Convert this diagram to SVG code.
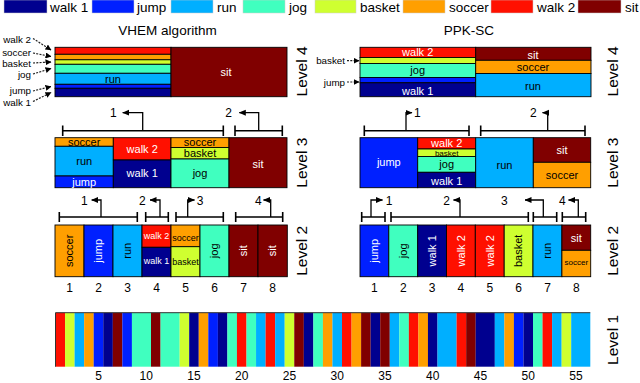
<svg xmlns="http://www.w3.org/2000/svg" width="640" height="383" viewBox="0 0 640 383">
<defs>
<style>
text{font-family:"Liberation Sans",Arial,sans-serif;fill:#000}
.lg{font-size:13.5px}
.ttl{font-size:13.5px;text-anchor:middle}
.lvl{font-size:15.5px;text-anchor:middle}
.num{font-size:12px;text-anchor:middle}
.lb{font-size:11px;text-anchor:middle}
.sm{font-size:9px;text-anchor:middle}
.xs{font-size:8px;text-anchor:middle}
.side{font-size:9.8px;text-anchor:end}
.wt{fill:#fff}
.w1{fill:#00008F}.jp{fill:#0020FF}.rn{fill:#00AFFF}.jg{fill:#40FFBF}
.bk{fill:#CFFF30}.sc{fill:#FF9F00}.w2{fill:#FF1000}.st{fill:#800000}
.cell rect{stroke:#000;stroke-width:0.9}
.sw{stroke:#ccc;stroke-width:0.5}
.br{fill:none;stroke:#000;stroke-width:1.6}
.turn{fill:none;stroke:#000;stroke-width:1.3;marker-end:url(#ah)}
.dot{fill:none;stroke:#222;stroke-width:1.2;stroke-dasharray:2 1.3;marker-end:url(#ah2)}
</style>
<marker id="ah" markerUnits="userSpaceOnUse" markerWidth="7" markerHeight="7" refX="6.5" refY="3.5" orient="auto">
<path d="M0,0.5 L7,3.5 L0,6.5 z" fill="#000" stroke="none"/>
</marker>
<marker id="ah2" markerUnits="userSpaceOnUse" markerWidth="6" markerHeight="6" refX="5.5" refY="3" orient="auto">
<path d="M0,0 L6,3 L0,6 z" fill="#000" stroke="none"/>
</marker>
</defs>
<rect width="640" height="383" fill="#fff"/>

<g id="legend">
<rect class="w1 sw" x="4" y="0" width="43" height="13"/><text class="lg" x="50" y="11.5">walk 1</text>
<rect class="jp sw" x="92" y="0" width="42" height="13"/><text class="lg" x="137" y="11.5">jump</text>
<rect class="rn sw" x="171" y="0" width="42" height="13"/><text class="lg" x="217" y="11.5">run</text>
<rect class="jg sw" x="243" y="0" width="42" height="13"/><text class="lg" x="289" y="11.5">jog</text>
<rect class="bk sw" x="315" y="0" width="41" height="13"/><text class="lg" x="360" y="11.5">basket</text>
<rect class="sc sw" x="403" y="0" width="42" height="13"/><text class="lg" x="449" y="11.5">soccer</text>
<rect class="w2 sw" x="491" y="0" width="42" height="13"/><text class="lg" x="537" y="11.5">walk 2</text>
<rect class="st sw" x="578" y="0" width="43" height="13"/><text class="lg" x="625" y="11.5">sit</text>
</g>

<text class="ttl" x="167.5" y="35">VHEM algorithm</text>
<text class="ttl" x="469" y="35">PPK-SC</text>

<g id="level-labels">
<text class="lvl" transform="translate(307,71.5) rotate(-90)">Level 4</text>
<text class="lvl" transform="translate(618,71.5) rotate(-90)">Level 4</text>
<text class="lvl" transform="translate(307,162.7) rotate(-90)">Level 3</text>
<text class="lvl" transform="translate(618,162.7) rotate(-90)">Level 3</text>
<text class="lvl" transform="translate(307,250.8) rotate(-90)">Level 2</text>
<text class="lvl" transform="translate(618,250.8) rotate(-90)">Level 2</text>
<text class="lvl" transform="translate(618,340) rotate(-90)">Level 1</text>
</g>

<!-- VHEM level 4 -->
<g id="vhem-l4" class="cell">
<rect class="w2" x="55" y="47.3" width="116" height="7"/>
<rect class="sc" x="55" y="54.3" width="116" height="5.5"/>
<rect class="bk" x="55" y="59.8" width="116" height="4.5"/>
<rect class="jg" x="55" y="64.3" width="116" height="9"/>
<rect class="rn" x="55" y="73.3" width="116" height="11"/>
<rect class="jp" x="55" y="84.3" width="116" height="4"/>
<rect class="w1" x="55" y="88.3" width="116" height="8.4"/>
<rect class="st" x="171" y="47.3" width="116" height="49.4"/>
<text class="lb" x="113" y="82.5">run</text>
<text class="lb wt" x="226" y="75.8">sit</text>
</g>
<g id="vhem-l4-side">
<text class="side" x="31" y="43">walk 2</text>
<text class="side" x="31" y="56">soccer</text>
<text class="side" x="31" y="66.8">basket</text>
<text class="side" x="31" y="77.5">jog</text>
<text class="side" x="31" y="94">jump</text>
<text class="side" x="31" y="105.5">walk 1</text>
</g>

<!-- PPK level 4 -->
<g id="ppk-l4" class="cell">
<rect class="w2" x="360" y="47.3" width="115.7" height="10.2"/>
<rect class="bk" x="360" y="57.5" width="115.7" height="6"/>
<rect class="jg" x="360" y="63.5" width="115.7" height="14"/>
<rect class="jp" x="360" y="77.5" width="115.7" height="5.3"/>
<rect class="w1" x="360" y="82.8" width="115.7" height="13.9"/>
<rect class="st" x="475.7" y="47.3" width="115.3" height="13"/>
<rect class="sc" x="475.7" y="60.3" width="115.3" height="13.2"/>
<rect class="rn" x="475.7" y="73.5" width="115.3" height="23.2"/>
<text class="lb wt" x="417.7" y="55.8">walk 2</text>
<text class="lb" x="417.7" y="73.8">jog</text>
<text class="lb wt" x="417.7" y="94.5">walk 1</text>
<text class="lb wt" x="533" y="58.5">sit</text>
<text class="lb" x="533" y="70.8">soccer</text>
<text class="lb" x="533" y="89.5">run</text>
</g>
<g id="ppk-l4-side">
<text class="side" x="345" y="64.3">basket</text>
<text class="side" x="345" y="85.5">jump</text>
</g>

<!-- VHEM level 3 -->
<g id="vhem-l3" class="cell">
<rect class="sc" x="55" y="137.7" width="58.3" height="8.6"/>
<rect class="rn" x="55" y="146.3" width="58.3" height="29.7"/>
<rect class="jp" x="55" y="176" width="58.3" height="11.7"/>
<rect class="w2" x="113.3" y="137.7" width="57.7" height="22.3"/>
<rect class="w1" x="113.3" y="160" width="57.7" height="27.7"/>
<rect class="sc" x="171" y="137.7" width="58" height="9.8"/>
<rect class="bk" x="171" y="147.5" width="58" height="11.5"/>
<rect class="jg" x="171" y="159" width="58" height="28.7"/>
<rect class="st" x="229" y="137.7" width="58" height="50"/>
<text class="lb" x="84.2" y="146">soccer</text>
<text class="lb" x="84.2" y="165">run</text>
<text class="lb wt" x="84.2" y="186">jump</text>
<text class="lb wt" x="142.2" y="152.8">walk 2</text>
<text class="lb wt" x="142.2" y="177">walk 1</text>
<text class="lb" x="200" y="146">soccer</text>
<text class="lb" x="200" y="157">basket</text>
<text class="lb" x="200" y="177">jog</text>
<text class="lb wt" x="258" y="167.8">sit</text>
</g>

<!-- PPK level 3 -->
<g id="ppk-l3" class="cell">
<rect class="jp" x="360" y="137.7" width="57.7" height="50"/>
<rect class="w2" x="417.7" y="137.7" width="58" height="11.3"/>
<rect class="bk" x="417.7" y="149" width="58" height="7.5"/>
<rect class="jg" x="417.7" y="156.5" width="58" height="15.8"/>
<rect class="w1" x="417.7" y="172.3" width="58" height="15.4"/>
<rect class="rn" x="475.7" y="137.7" width="57.6" height="50"/>
<rect class="st" x="533.3" y="137.7" width="57.4" height="24.6"/>
<rect class="sc" x="533.3" y="162.3" width="57.4" height="25.4"/>
<text class="lb wt" x="388.8" y="165.5">jump</text>
<text class="lb wt" x="446.7" y="147.1">walk 2</text>
<text class="xs" x="446.7" y="156">basket</text>
<text class="lb" x="446.7" y="168">jog</text>
<text class="lb wt" x="446.7" y="184.5">walk 1</text>
<text class="lb" x="504.5" y="168.8">run</text>
<text class="lb wt" x="562" y="153.8">sit</text>
<text class="lb" x="562" y="178.8">soccer</text>
</g>

<!-- VHEM level 2 -->
<g id="vhem-l2" class="cell">
<rect class="sc" x="55" y="225" width="29" height="51.7"/>
<rect class="jp" x="84" y="225" width="29" height="51.7"/>
<rect class="rn" x="113" y="225" width="29" height="51.7"/>
<rect class="w2" x="142" y="225" width="29" height="22.3"/>
<rect class="w1" x="142" y="247.3" width="29" height="29.4"/>
<rect class="sc" x="171" y="225" width="29" height="21.7"/>
<rect class="bk" x="171" y="246.7" width="29" height="30"/>
<rect class="jg" x="200" y="225" width="29" height="51.7"/>
<rect class="st" x="229" y="225" width="29" height="51.7"/>
<rect class="st" x="258" y="225" width="29.3" height="51.7"/>
<text class="lb" transform="translate(69.5,250.8) rotate(-90)" dy="3.8">soccer</text>
<text class="lb wt" transform="translate(98.5,250.8) rotate(-90)" dy="3.8">jump</text>
<text class="lb" transform="translate(127.5,250.8) rotate(-90)" dy="3.8">run</text>
<text class="sm wt" x="156.5" y="239.2">walk 2</text>
<text class="sm wt" x="156.5" y="264.2">walk 1</text>
<text class="sm" x="185.5" y="241.3">soccer</text>
<text class="sm" x="185.5" y="264.7">basket</text>
<text class="lb" transform="translate(214.5,250.8) rotate(-90)" dy="3.8">jog</text>
<text class="lb wt" transform="translate(243.5,250.8) rotate(-90)" dy="3.8">sit</text>
<text class="lb wt" transform="translate(272.5,250.8) rotate(-90)" dy="3.8">sit</text>
</g>
<g id="vhem-l2-nums">
<text class="num" x="69.5" y="291.5">1</text><text class="num" x="98.5" y="291.5">2</text>
<text class="num" x="127.5" y="291.5">3</text><text class="num" x="156.5" y="291.5">4</text>
<text class="num" x="185.5" y="291.5">5</text><text class="num" x="214.5" y="291.5">6</text>
<text class="num" x="243.5" y="291.5">7</text><text class="num" x="272.5" y="291.5">8</text>
</g>

<!-- PPK level 2 -->
<g id="ppk-l2" class="cell">
<rect class="jp" x="360" y="225" width="28.8" height="51.7"/>
<rect class="jg" x="388.8" y="225" width="28.9" height="51.7"/>
<rect class="w1" x="417.7" y="225" width="28.8" height="51.7"/>
<rect class="w2" x="446.5" y="225" width="28.8" height="51.7"/>
<rect class="w2" x="475.3" y="225" width="28.9" height="51.7"/>
<rect class="bk" x="504.2" y="225" width="28.8" height="51.7"/>
<rect class="rn" x="533" y="225" width="28.9" height="51.7"/>
<rect class="st" x="561.9" y="225" width="28.8" height="25.3"/>
<rect class="sc" x="561.9" y="250.3" width="28.8" height="26.4"/>
<text class="lb wt" transform="translate(374.4,250.8) rotate(-90)" dy="3.8">jump</text>
<text class="lb" transform="translate(403.3,250.8) rotate(-90)" dy="3.8">jog</text>
<text class="lb wt" transform="translate(432.1,250.8) rotate(-90)" dy="3.8">walk 1</text>
<text class="lb wt" transform="translate(460.9,250.8) rotate(-90)" dy="3.8">walk 2</text>
<text class="lb wt" transform="translate(489.8,250.8) rotate(-90)" dy="3.8">walk 2</text>
<text class="lb" transform="translate(518.6,250.8) rotate(-90)" dy="3.8">basket</text>
<text class="lb" transform="translate(547.5,250.8) rotate(-90)" dy="3.8">run</text>
<text class="lb wt" x="576.3" y="241.5">sit</text>
<text class="xs" x="576.3" y="264.5">soccer</text>
</g>
<g id="ppk-l2-nums">
<text class="num" x="374.4" y="291.5">1</text><text class="num" x="403.3" y="291.5">2</text>
<text class="num" x="432.1" y="291.5">3</text><text class="num" x="460.9" y="291.5">4</text>
<text class="num" x="489.8" y="291.5">5</text><text class="num" x="518.6" y="291.5">6</text>
<text class="num" x="547.5" y="291.5">7</text><text class="num" x="576.3" y="291.5">8</text>
</g>

<!-- Level 1 -->
<g id="level1">
<rect class="w2" x="55.5" y="312.7" width="9.6" height="54"/>
<rect class="bk" x="65.05" y="312.7" width="9.6" height="54"/>
<rect class="rn" x="74.6" y="312.7" width="9.6" height="54"/>
<rect class="sc" x="84.15" y="312.7" width="9.6" height="54"/>
<rect class="jp" x="93.7" y="312.7" width="9.6" height="54"/>
<rect class="w1" x="103.25" y="312.7" width="9.6" height="54"/>
<rect class="st" x="112.8" y="312.7" width="9.6" height="54"/>
<rect class="jp" x="122.35" y="312.7" width="9.6" height="54"/>
<rect class="jg" x="131.9" y="312.7" width="19.15" height="54"/>
<rect class="st" x="151" y="312.7" width="9.6" height="54"/>
<rect class="jg" x="160.55" y="312.7" width="19.15" height="54"/>
<rect class="bk" x="179.65" y="312.7" width="9.6" height="54"/>
<rect class="w1" x="189.2" y="312.7" width="9.6" height="54"/>
<rect class="sc" x="198.75" y="312.7" width="9.6" height="54"/>
<rect class="jp" x="208.3" y="312.7" width="9.6" height="54"/>
<rect class="w1" x="217.85" y="312.7" width="9.6" height="54"/>
<rect class="jg" x="227.4" y="312.7" width="9.6" height="54"/>
<rect class="w2" x="236.95" y="312.7" width="9.6" height="54"/>
<rect class="jg" x="246.5" y="312.7" width="9.6" height="54"/>
<rect class="rn" x="256.05" y="312.7" width="9.6" height="54"/>
<rect class="w2" x="265.6" y="312.7" width="9.6" height="54"/>
<rect class="rn" x="275.15" y="312.7" width="9.6" height="54"/>
<rect class="bk" x="284.7" y="312.7" width="9.6" height="54"/>
<rect class="st" x="294.25" y="312.7" width="9.6" height="54"/>
<rect class="w1" x="303.8" y="312.7" width="9.6" height="54"/>
<rect class="jg" x="313.35" y="312.7" width="9.6" height="54"/>
<rect class="sc" x="322.9" y="312.7" width="9.6" height="54"/>
<rect class="rn" x="332.45" y="312.7" width="9.6" height="54"/>
<rect class="w2" x="342" y="312.7" width="9.6" height="54"/>
<rect class="sc" x="351.55" y="312.7" width="9.6" height="54"/>
<rect class="st" x="361.1" y="312.7" width="9.6" height="54"/>
<rect class="w1" x="370.65" y="312.7" width="9.6" height="54"/>
<rect class="st" x="380.2" y="312.7" width="9.6" height="54"/>
<rect class="rn" x="389.75" y="312.7" width="9.6" height="54"/>
<rect class="jg" x="399.3" y="312.7" width="9.6" height="54"/>
<rect class="w2" x="408.85" y="312.7" width="9.6" height="54"/>
<rect class="sc" x="418.4" y="312.7" width="9.6" height="54"/>
<rect class="w1" x="427.95" y="312.7" width="9.6" height="54"/>
<rect class="rn" x="437.5" y="312.7" width="19.15" height="54"/>
<rect class="w2" x="456.6" y="312.7" width="9.6" height="54"/>
<rect class="st" x="466.15" y="312.7" width="9.6" height="54"/>
<rect class="w1" x="475.7" y="312.7" width="19.15" height="54"/>
<rect class="rn" x="494.8" y="312.7" width="9.6" height="54"/>
<rect class="sc" x="504.35" y="312.7" width="9.6" height="54"/>
<rect class="jp" x="513.9" y="312.7" width="9.6" height="54"/>
<rect class="w1" x="523.45" y="312.7" width="9.6" height="54"/>
<rect class="jg" x="533" y="312.7" width="9.6" height="54"/>
<rect class="w2" x="542.55" y="312.7" width="9.6" height="54"/>
<rect class="rn" x="552.1" y="312.7" width="9.6" height="54"/>
<rect class="bk" x="561.65" y="312.7" width="9.6" height="54"/>
<rect class="rn" x="571.2" y="312.7" width="19.1" height="54"/>
<path d="M55.5,366.7 V312.7 H590.3" fill="none" stroke="#333" stroke-width="1"/>
</g>
<g id="level1-ticks">
<text class="num" x="98.5" y="380">5</text><text class="num" x="146.3" y="380">10</text>
<text class="num" x="194" y="380">15</text><text class="num" x="241.7" y="380">20</text>
<text class="num" x="289.5" y="380">25</text><text class="num" x="337.2" y="380">30</text>
<text class="num" x="385" y="380">35</text><text class="num" x="432.7" y="380">40</text>
<text class="num" x="480.5" y="380">45</text><text class="num" x="528.2" y="380">50</text>
<text class="num" x="576" y="380">55</text>
</g>

<!-- connectors: brackets, merge arrows, side arrows -->
<g id="connectors">
<path class="dot" d="M33,38.5 L51,50"/>
<path class="dot" d="M33,53 L51,56.5"/>
<path class="dot" d="M33,63 L51,62"/>
<path class="dot" d="M33,74 L51,68.5"/>
<path class="dot" d="M33,91 L51,86.5"/>
<path class="dot" d="M33,101.5 L51,92.5"/>
<path class="dot" d="M347,60.7 H359"/>
<path class="dot" d="M347,82 H359"/>

<path class="br" d="M62.7,125.5 V136 M62.7,130.7 H223.3 M223.3,125.5 V136"/>
<path class="turn" d="M142.7,130.7 V112.7 H122.7"/>
<path class="br" d="M235,125.5 V136 M235,130.7 H282.3 M282.3,125.5 V136"/>
<path class="turn" d="M258.7,130.7 V112.7 H239.3"/>
<path class="br" d="M364.3,125.5 V136 M364.3,130.7 H469 M469,125.5 V136"/>
<path class="turn" d="M406,130.7 V112.7 H412"/>
<path class="br" d="M480.7,125.5 V136 M480.7,130.7 H585 M585,125.5 V136"/>
<path class="turn" d="M547.7,130.7 V112.7 H542.5"/>

<path class="br" d="M59.3,212 V222 M59.3,217 H137.3 M137.3,212 V222"/>
<path class="turn" d="M101,217 V200 H91.7"/>
<path class="br" d="M145.7,212 V222 M145.7,217 H168.3 M168.3,212 V222"/>
<path class="turn" d="M160,217 V200 H150"/>
<path class="br" d="M176,212 V222 M176,217 H223.3 M223.3,212 V222"/>
<path class="turn" d="M187.7,217 V200 H194.5"/>
<path class="br" d="M235.7,212 V222 M235.7,217 H282.7 M282.7,212 V222"/>
<path class="turn" d="M270.7,217 V200 H263.5"/>

<path class="br" d="M361.7,212 V222 M361.7,217 H385 M385,212 V222"/>
<path class="turn" d="M371,217 V200 H382.5"/>
<path class="br" d="M391,212 V222 M391,217 H528.3 M528.3,212 V222"/>
<path class="turn" d="M460,217 V200 H453.5"/>
<path class="br" d="M533.3,212 V222 M533.3,217 H556.7 M556.7,212 V222"/>
<path class="turn" d="M543.3,217 V200 H525"/>
<path class="br" d="M562.3,212 V222 M562.3,217 H585.7 M585.7,212 V222"/>
<path class="turn" d="M578.3,217 V200 H568.5"/>
</g>
<g id="merge-labels">
<text class="num" x="113.3" y="117">1</text>
<text class="num" x="228.7" y="117">2</text>
<text class="num" x="417.3" y="117">1</text>
<text class="num" x="533.3" y="117">2</text>
<text class="num" x="84.3" y="204.5">1</text>
<text class="num" x="142.3" y="204.5">2</text>
<text class="num" x="200" y="204.5">3</text>
<text class="num" x="258.3" y="204.5">4</text>
<text class="num" x="389" y="204.5">1</text>
<text class="num" x="446.7" y="204.5">2</text>
<text class="num" x="504.3" y="204.5">3</text>
<text class="num" x="562.3" y="204.5">4</text>
</g>
</svg>
